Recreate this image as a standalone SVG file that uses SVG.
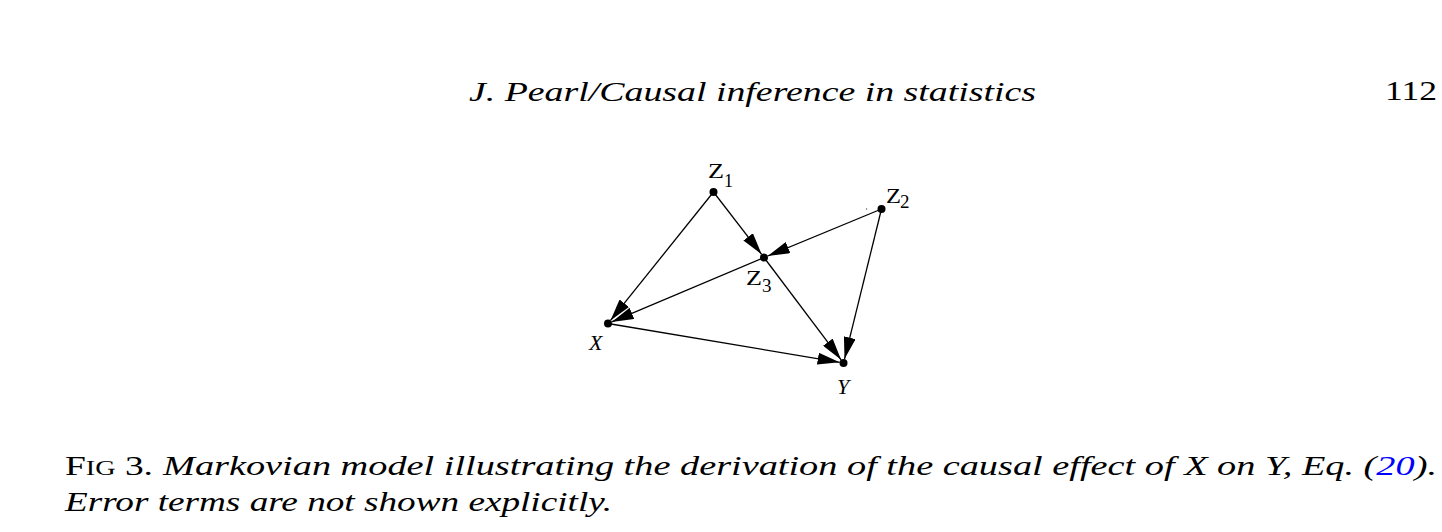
<svg xmlns="http://www.w3.org/2000/svg" width="1442" height="532" viewBox="0 0 1442 532">
<style>
  .bg { fill: #ffffff; }
  .edge { stroke: #000; stroke-width: 1.3; fill: none; marker-end: url(#arrow); }
  .dot { fill: #000; }
  .lbl { font-family: "Liberation Serif", "Times New Roman", serif; fill: #000; }
  .it { font-style: italic; }
  .hdr { font-family: "Liberation Serif", "Times New Roman", serif; font-size: 27px; fill: #000; }
  .cap { font-family: "Liberation Serif", "Times New Roman", serif; font-size: 28px; fill: #000; }
  .link { fill: #0000ff; }
</style>
<defs>
  <marker id="arrow" viewBox="0 0 22 12" refX="22" refY="6" markerWidth="22" markerHeight="12" markerUnits="userSpaceOnUse" orient="auto">
    <path d="M0,0 L22,6 L0,12 z" fill="#000"/>
  </marker>
</defs>
<rect class="bg" x="0" y="0" width="1442" height="532"/>

<text class="hdr it" x="469" y="101" textLength="567" lengthAdjust="spacingAndGlyphs">J. Pearl/Causal inference in statistics</text>
<text class="hdr" x="1437" y="100" text-anchor="end" textLength="52" lengthAdjust="spacingAndGlyphs">112</text>

<g id="connectors">
  <line class="edge" x1="713.5" y1="192" x2="610.5" y2="320.4"/>
  <line class="edge" x1="713.5" y1="192" x2="761.6" y2="254.3"/>
  <line class="edge" x1="881.5" y1="209" x2="767.7" y2="256.0"/>
  <line class="edge" x1="881.5" y1="209" x2="844.5" y2="359.1"/>
  <line class="edge" x1="764" y1="257.5" x2="611.7" y2="321.9"/>
  <line class="edge" x1="764" y1="257.5" x2="841.1" y2="359.8"/>
  <line class="edge" x1="608" y1="323.5" x2="839.6" y2="362.3"/>
</g>

<g id="node-Z1">
  <circle class="dot" cx="713.5" cy="192" r="4"/>
  <text class="lbl" x="708" y="178" font-size="20" textLength="16" lengthAdjust="spacingAndGlyphs">Z</text>
  <text class="lbl" x="724" y="187" font-size="18">1</text>
</g>
<g id="node-Z2">
  <circle class="dot" cx="881.5" cy="209" r="4"/>
  <circle cx="866.5" cy="209" r="0.7" fill="#555"/>
  <text class="lbl" x="886" y="203" font-size="21" textLength="15" lengthAdjust="spacingAndGlyphs">Z</text>
  <text class="lbl" x="900" y="208" font-size="19">2</text>
</g>
<g id="node-Z3">
  <circle class="dot" cx="764" cy="257.5" r="4"/>
  <text class="lbl" x="746" y="285" font-size="21" textLength="16" lengthAdjust="spacingAndGlyphs">Z</text>
  <text class="lbl" x="762" y="292" font-size="19">3</text>
</g>
<g id="node-X">
  <circle class="dot" cx="608" cy="323.5" r="4"/>
  <text class="lbl it" x="589" y="350" font-size="22">X</text>
</g>
<g id="node-Y">
  <circle class="dot" cx="843.5" cy="363" r="4"/>
  <text class="lbl it" x="837" y="394" font-size="22">Y</text>
</g>

<text class="cap" x="65" y="475" textLength="88" lengthAdjust="spacingAndGlyphs">F<tspan font-size="21">IG</tspan> 3.</text>
<text class="cap it" x="163" y="475" textLength="1274" lengthAdjust="spacingAndGlyphs">Markovian model illustrating the derivation of the causal effect of X  on Y, Eq. (<tspan class="link">20</tspan>).</text>
<text class="cap it" x="65" y="511" textLength="547" lengthAdjust="spacingAndGlyphs">Error terms are not shown explicitly.</text>
</svg>
